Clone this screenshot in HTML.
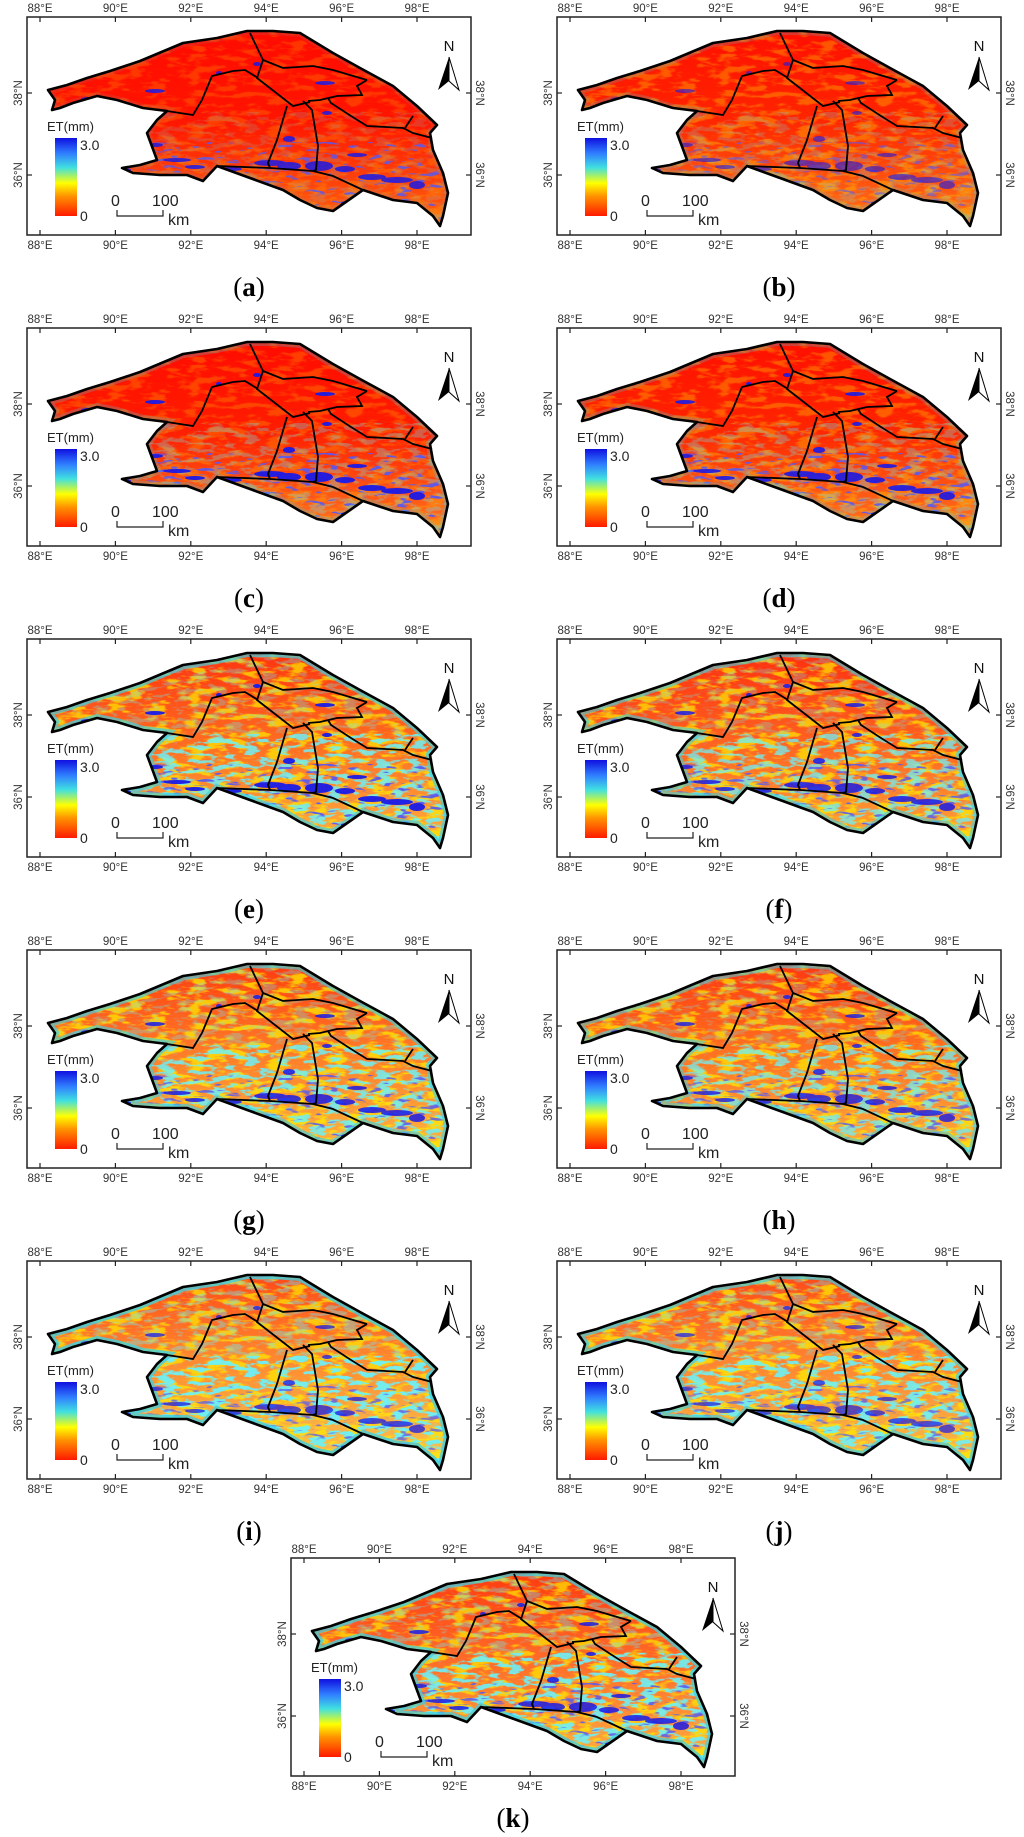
<!DOCTYPE html>
<html><head><meta charset="utf-8"><title>ET maps</title>
<style>
html,body{margin:0;padding:0;background:#fff;}
svg{display:block;}
text{font-family:"Liberation Sans",sans-serif;}
.cap{font-family:"Liberation Serif",serif;font-size:27px;}
</style></head>
<body>
<svg id="fig" xmlns="http://www.w3.org/2000/svg" width="1024" height="1837" viewBox="0 0 1024 1837">
<defs>
<linearGradient id="cbar" x1="0" y1="1" x2="0" y2="0">
<stop offset="0" stop-color="#ff1a00"/><stop offset="0.25" stop-color="#ff9000"/><stop offset="0.42" stop-color="#ffff00"/><stop offset="0.62" stop-color="#40e0e0"/><stop offset="0.8" stop-color="#3080ff"/><stop offset="1" stop-color="#1010e0"/>
</linearGradient>
<filter id="noiseY" x="0" y="0" width="1" height="1">
<feTurbulence type="fractalNoise" baseFrequency="0.05 0.16" numOctaves="3" seed="3"/>
<feColorMatrix type="matrix" values="0 0 0 0 1  0 0 0 0 0.85  0 0 0 0 0  6 0 0 0 -2.9"/>
</filter>
<filter id="noiseC" x="0" y="0" width="1" height="1">
<feTurbulence type="fractalNoise" baseFrequency="0.06 0.2" numOctaves="3" seed="9"/>
<feColorMatrix type="matrix" values="0 0 0 0 0.15  0 0 0 0 0.88  0 0 0 0 0.95  9 0 0 0 -4.6"/>
</filter>
<filter id="noiseB" x="0" y="0" width="1" height="1">
<feTurbulence type="fractalNoise" baseFrequency="0.07 0.25" numOctaves="2" seed="21"/>
<feColorMatrix type="matrix" values="0 0 0 0 0.1  0 0 0 0 0.1  0 0 0 0 0.9  10 0 0 0 -6.2"/>
</filter>
</defs>
</svg>
<script>
const labels = ['a','b','c','d','e','f','g','h','i','j','k'];
const topColors = ['#ff0c00','#ff1000','#ff0c00','#ff1000','#ff3410','#ff3010','#ff3c10','#ff3810','#ff4a18','#ff4a18','#ff3c10'];
const midColors = ['#ff1400','#ff2400','#ff1c00','#ff2400','#ff6a20','#ff6020','#ff7a28','#ff7020','#ff8a30','#ff8430','#ff6a28'];
const botColors = ['#ff6010','#ff7018','#ff7820','#ff7820','#ffb040','#ffa838','#ffb840','#ffb040','#f8c850','#f8c048','#ffb040'];
const yellowNoise = [0.18,0.3,0.22,0.3,0.7,0.7,0.75,0.7,0.7,0.75,0.7];
const cyanNoise = [0.15,0.2,0.3,0.3,0.85,0.75,0.85,0.75,0.95,0.9,0.9];
const cyanNorth = [0,0,0,0,0.3,0.25,0.3,0.25,0.4,0.35,0.35];
const blueAmt = [0.85,0.6,0.95,0.9,0.95,0.85,0.85,0.8,0.75,0.7,0.85];
const edgeAmt = [0.1,0.2,0.25,0.25,0.7,0.6,0.65,0.55,0.8,0.7,0.75];
const lonTicks = ['88°E','90°E','92°E','94°E','96°E','98°E'];
const latTicks = ['38°N','36°N'];

const W=444,H=218;
const framePos = [[27,17],[557,17],[27,328],[557,328],[27,639],[557,639],[27,950],[557,950],[27,1261],[557,1261],[291,1558]];
const outline = [[21,73],[40,68],[60,61],[83,54],[113,44],[156,26],[190,21],[220,14],[246,14],[273,16],[306,36],[333,51],[366,69],[390,89],[410,108],[403,116],[406,133],[416,156],[421,176],[416,199],[413,209],[406,199],[390,186],[366,183],[336,173],[306,194],[290,191],[273,183],[256,173],[223,161],[190,149],[176,164],[160,158],[133,158],[106,156],[95,151],[113,148],[130,143],[120,116],[130,103],[140,94],[116,91],[90,83],[70,79],[46,86],[33,91],[25,93],[28,83]];
const inner = [
 [[223,16],[236,43],[230,61],[266,89],[283,85]],
 [[140,94],[166,98],[175,83],[185,59],[206,54],[218,53],[231,61]],
 [[260,89],[250,123],[241,146],[243,151]],
 [[276,84],[285,93],[291,129],[289,153],[286,154]],
 [[190,149],[243,151],[286,154],[306,159],[336,173]],
 [[236,43],[256,51],[286,49],[306,53],[333,61],[340,63]],
 [[340,63],[330,69],[335,78],[310,79],[293,83],[281,84]],
 [[301,81],[304,86],[324,99],[340,109],[376,111],[386,116],[405,121]],
 [[386,99],[378,111]]
];
const blobs = [[243,146,16,3],[262,149,12,4],[292,149,14,5],[318,152,10,3],[345,160,14,3],[370,163,16,3],[390,168,8,4],[150,143,14,2],[168,150,10,2],[205,152,10,2],[330,138,10,2],[62,82,8,2],[128,74,10,2],[298,66,10,2],[262,122,6,3],[300,96,5,2],[128,128,8,2],[320,186,6,2],[98,153,6,2],[230,47,4,2],[192,56,3,2]];

const NS='http://www.w3.org/2000/svg';
const fig=document.getElementById('fig');
function mk(tag,attrs,parent){const e=document.createElementNS(NS,tag);for(const k in attrs)e.setAttribute(k,attrs[k]);parent.appendChild(e);return e;}
const lonX = lon => 13 + (lon-88)*37.7;
const latY = lat => 76 + (38-lat)*41;
const pts = a => a.map(p=>p.join(',')).join(' ');

labels.forEach((lab,i)=>{
  const [fx,fy]=framePos[i];
  const g=mk('g',{transform:`translate(${fx},${fy})`},fig);
  
  
  mk('rect',{x:0,y:0,width:W,height:H,fill:'#fff',stroke:'#222','stroke-width':1.5},g);
  const defs=mk('defs',{},g);
  const lg=mk('linearGradient',{id:'grad'+i,x1:0,y1:15,x2:0,y2:205,gradientUnits:'userSpaceOnUse'},defs);
  mk('stop',{offset:0,'stop-color':topColors[i]},lg);
  mk('stop',{offset:0.45,'stop-color':midColors[i]},lg);
  mk('stop',{offset:1,'stop-color':botColors[i]},lg);
  const cp=mk('clipPath',{id:'clip'+i},defs);
  mk('polygon',{points:pts(outline)},cp);
  const m=mk('g',{'clip-path':`url(#clip${i})`},g);
  
  
  mk('rect',{x:0,y:0,width:W,height:H,fill:`url(#grad${i})`},m);
  mk('rect',{x:0,y:0,width:W,height:H,filter:'url(#noiseY)',opacity:yellowNoise[i]},m);
  mk('rect',{x:0,y:95,width:W,height:123,filter:'url(#noiseC)',opacity:cyanNoise[i]},m);
  if(cyanNorth[i]>0) mk('rect',{x:0,y:0,width:W,height:95,filter:'url(#noiseC)',opacity:cyanNorth[i]},m);
  mk('rect',{x:0,y:125,width:W,height:93,filter:'url(#noiseB)',opacity:blueAmt[i]},m);
  mk('polygon',{points:pts(outline),fill:'none',stroke:'#40d0e0','stroke-width':8,opacity:edgeAmt[i]},m);
  const bg=mk('g',{fill:'#1a1ae8',opacity:blueAmt[i]},m);
  blobs.forEach(b=>{mk('ellipse',{cx:b[0],cy:b[1],rx:b[2],ry:b[3]},bg);});
  const ol=mk('polygon',{points:pts(outline),fill:'none',stroke:'#000','stroke-width':2.6,'stroke-linejoin':'round'},g);
  
  
  inner.forEach(l=>{
    const pl=mk('polyline',{points:pts(l),fill:'none',stroke:'#000','stroke-width':1.8},g);
    
    
  });
  lonTicks.forEach((t,k)=>{
    const x=lonX(88+2*k);
    mk('line',{x1:x,y1:0,x2:x,y2:5,stroke:'#222','stroke-width':1.2},g);
    mk('line',{x1:x,y1:H,x2:x,y2:H-5,stroke:'#222','stroke-width':1.2},g);
    const tt=mk('text',{x:x,y:-5,'font-size':11.5,'text-anchor':'middle',fill:'#333'},g);tt.textContent=t;
    
    
    const tb=mk('text',{x:x,y:H+14,'font-size':11.5,'text-anchor':'middle',fill:'#333'},g);tb.textContent=t;
    
    
  });
  latTicks.forEach((t,k)=>{
    const y=latY(38-2*k);
    mk('line',{x1:0,y1:y,x2:5,y2:y,stroke:'#222','stroke-width':1.2},g);
    mk('line',{x1:W,y1:y,x2:W-5,y2:y,stroke:'#222','stroke-width':1.2},g);
    const tl=mk('text',{x:0,y:0,'font-size':11.5,'text-anchor':'middle',fill:'#333',transform:`translate(-5,${y}) rotate(-90)`},g);tl.textContent=t;
    
    
    const tr=mk('text',{x:0,y:0,'font-size':11.5,'text-anchor':'middle',fill:'#333',transform:`translate(${W+5},${y}) rotate(90)`},g);tr.textContent=t;
    
    
  });
  const lgd=mk('g',{},g);
  
  
  const et=mk('text',{x:20,y:114,'font-size':13,fill:'#222'},lgd);et.textContent='ET(mm)';
  mk('rect',{x:28,y:121,width:22,height:78,fill:'url(#cbar)'},lgd);
  const t3=mk('text',{x:53,y:133,'font-size':14,fill:'#222'},lgd);t3.textContent='3.0';
  const t0=mk('text',{x:53,y:204,'font-size':14,fill:'#222'},lgd);t0.textContent='0';
  const sb=mk('g',{},g);
  
  
  const s0=mk('text',{x:84,y:189,'font-size':16,fill:'#222'},sb);s0.textContent='0';
  const s1=mk('text',{x:125,y:189,'font-size':16,fill:'#222'},sb);s1.textContent='100';
  mk('polyline',{points:'90,193 90,199 136,199 136,193',fill:'none',stroke:'#222','stroke-width':1.2},sb);
  const km=mk('text',{x:141,y:208,'font-size':16,fill:'#222'},sb);km.textContent='km';
  const na=mk('g',{},g);
  
  
  const nt=mk('text',{x:422,y:34,'font-size':15,'text-anchor':'middle',fill:'#111'},na);nt.textContent='N';
  mk('polygon',{points:'422,40 411,73 422,64',fill:'#000'},na);
  mk('polygon',{points:'422,40 432,73 422,64',fill:'#fff',stroke:'#000','stroke-width':1},na);
  const cap=mk('text',{x:W/2,y:i===10?269:279,'text-anchor':'middle',class:'cap',fill:'#000'},g);
  
  
  cap.innerHTML='(<tspan font-weight="bold">'+lab+'</tspan>)';
});
</script>
</body></html>
